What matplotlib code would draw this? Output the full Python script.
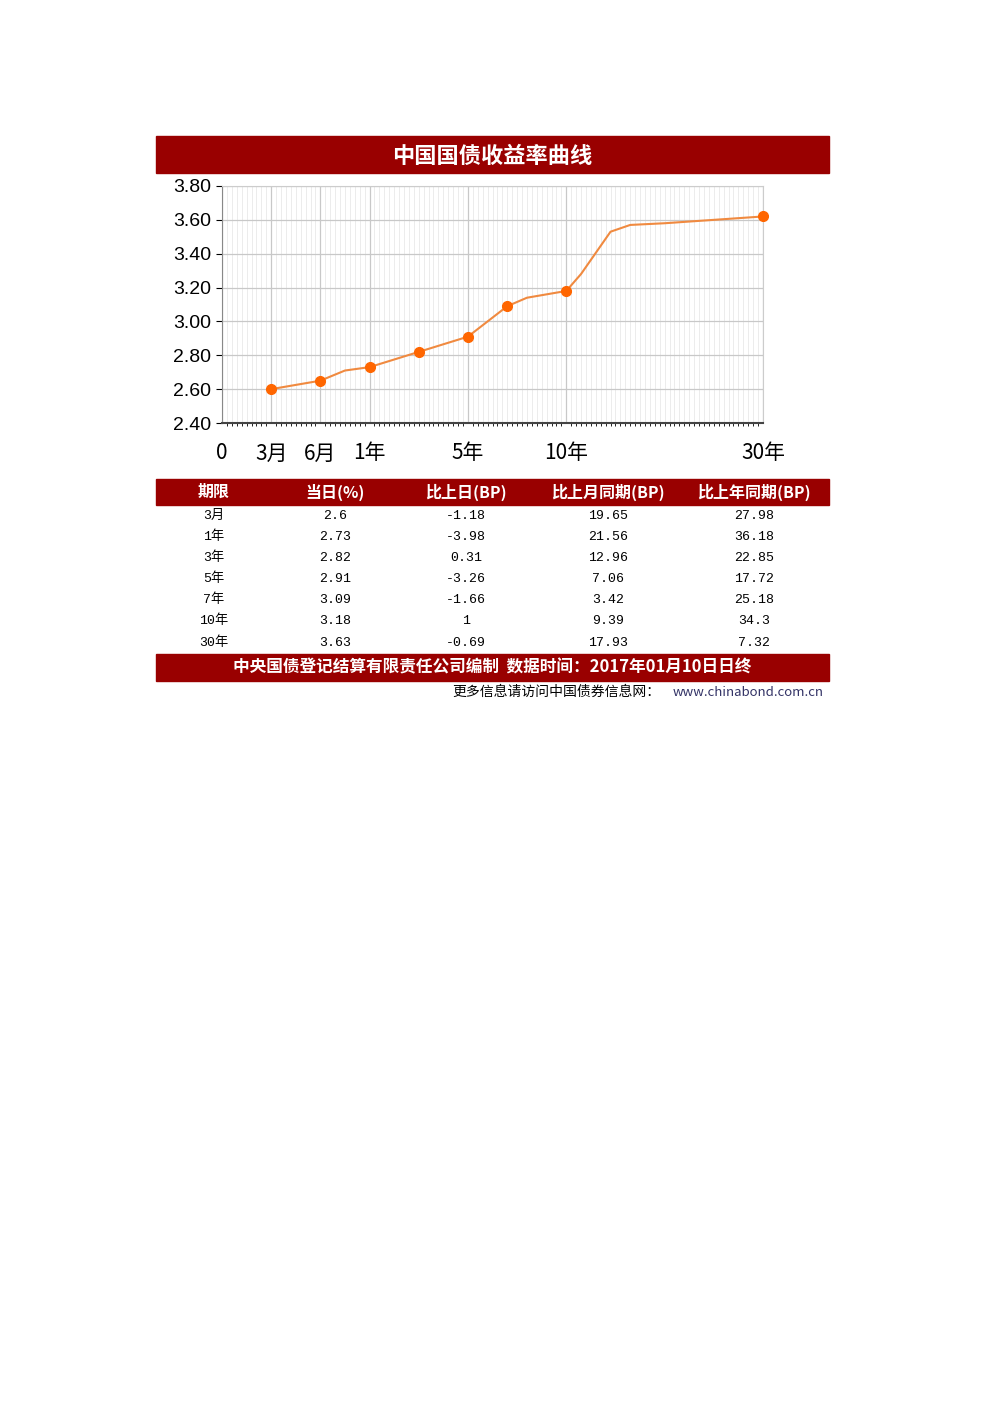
import matplotlib.pyplot as plt
from matplotlib.patches import Rectangle
from matplotlib.ticker import MultipleLocator

plt.rcParams['font.family'] = ['Noto Sans CJK SC', 'DejaVu Sans']

# curve data (x in tick slots)
tick_pos = [0, 1, 2, 3, 5, 7, 11]
tick_labels = ['0', '3月', '6月', '1年', '5年', '10年', '30年']
mark_x = [1, 2, 3, 4, 5, 5.8, 7, 11]
mark_y = [2.60, 2.65, 2.73, 2.82, 2.91, 3.09, 3.18, 3.62]
# unmarked knots of the curve
curve_x = [1, 2, 2.5, 3, 4, 5, 5.8, 6.2, 7, 7.3, 7.9, 8.3, 9, 11]
curve_y = [2.60, 2.65, 2.71, 2.73, 2.82, 2.91, 3.09, 3.14, 3.18, 3.28, 3.53, 3.57, 3.58, 3.62]

cols = ['期限', '当日(%)', '比上日(BP)', '比上月同期(BP)', '比上年同期(BP)']
terms = ['3月', '1年', '3年', '5年', '7年', '10年', '30年']
today = ['2.6', '2.73', '2.82', '2.91', '3.09', '3.18', '3.63']
d_day = ['-1.18', '-3.98', '0.31', '-3.26', '-1.66', '1', '-0.69']
d_month = ['19.65', '21.56', '12.96', '7.06', '3.42', '9.39', '17.93']
d_year = ['27.98', '36.18', '22.85', '17.72', '25.18', '34.3', '7.32']

W, H = 992, 1403
fig = plt.figure(figsize=(W / 100, H / 100), dpi=100)
red = '#990000'

def band(y0, y1, color=red):
    fig.patches.append(Rectangle((156 / W, 1 - y1 / H), (829 - 156) / W, (y1 - y0) / H,
                                 transform=fig.transFigure, color=color, zorder=0))

band(136, 173)
fig.text(492 / W, 1 - 156 / H, '中国国债收益率曲线', color='white', fontsize=16,
         fontweight='bold', ha='center', va='center')

ax = fig.add_axes([222 / W, 1 - 423 / H, (763 - 222) / W, (423 - 186) / H])
ax.plot(curve_x, curve_y, color='#f08a40', lw=1.5, zorder=3)
ax.plot(mark_x, mark_y, 'o', color='#ff6600', ms=7, zorder=4, clip_on=False)
ax.set_xlim(0, 11)
ax.set_ylim(2.40, 3.80)
ax.set_yticks([2.40, 2.60, 2.80, 3.00, 3.20, 3.40, 3.60, 3.80])
ax.set_yticklabels(['%.2f' % v for v in ax.get_yticks()], fontsize=14, family='Liberation Sans')
ax.set_xticks(tick_pos)
ax.set_xticklabels(tick_labels, fontsize=15)
ax.xaxis.set_minor_locator(MultipleLocator(0.1))
ax.grid(which='minor', axis='x', color='#e4e4e4', lw=0.5)
ax.grid(which='major', color='#c8c8c8', lw=0.9)
ax.tick_params(axis='x', length=0, pad=14)
ax.tick_params(axis='y', length=4, pad=4)
for s in ['top', 'right']:
    ax.spines[s].set_color('#cccccc')
ax.spines['bottom'].set_color('#444444')
ax.spines['bottom'].set_linewidth(1.5)
ax.spines['left'].set_color('#888888')

# table
band(479, 505)
col_x = [214, 335, 466, 608, 754]
for cx, c in zip(col_x, cols):
    fig.text(cx / W, 1 - 492 / H, c, color='white', fontsize=11.5, fontweight='bold',
             ha='center', va='center')
row_y = [516, 537, 558, 579, 600, 621, 643]
for i, ry in enumerate(row_y):
    vals = [terms[i], today[i], d_day[i], d_month[i], d_year[i]]
    for cx, v in zip(col_x, vals):
        fig.text(cx / W, 1 - ry / H, v, fontsize=9.5, ha='center', va='center',
                 family=['Liberation Mono', 'Noto Sans CJK SC'])
band(654, 681)
fig.text(492 / W, 1 - 667 / H, '中央国债登记结算有限责任公司编制  数据时间：2017年01月10日日终',
         color='white', fontsize=12, fontweight='bold', ha='center', va='center')
fig.text(824 / W, 1 - 692 / H, '更多信息请访问中国债券信息网：', fontsize=10,
         ha='right', va='center', alpha=0)
t = fig.text(824 / W, 1 - 692 / H, 'www.chinabond.com.cn', fontsize=9.5, color='#333366',
             ha='right', va='center')
fig.text(660 / W, 1 - 692 / H, '更多信息请访问中国债券信息网：', fontsize=10,
         ha='right', va='center')

fig.savefig('out.png', dpi=100)
